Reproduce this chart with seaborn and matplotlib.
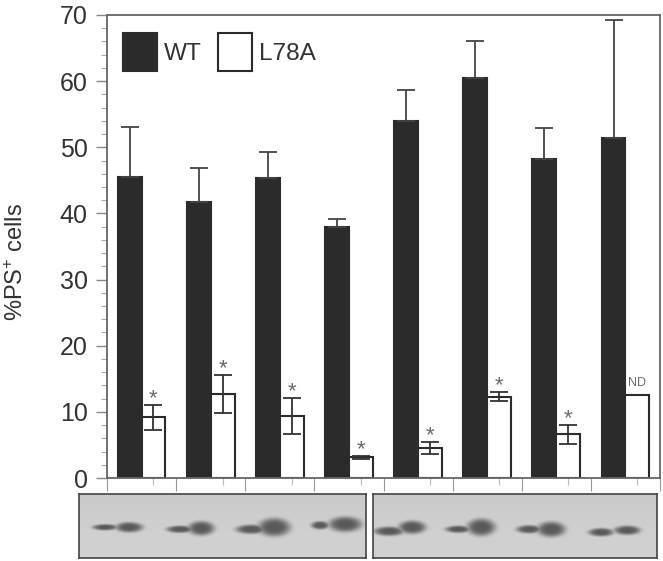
import numpy as np
import pandas as pd
import matplotlib
matplotlib.use('Agg')
import matplotlib.pyplot as plt
import seaborn as sns

sns.set_theme(style='white')
plt.rcParams['font.family'] = ['Liberation Sans', 'DejaVu Sans']
plt.rcParams['mathtext.default'] = 'regular'

groups = ['1', '2', '3', '4', '5', '6', '7', '8']
wt = [45.5, 41.7, 45.4, 38.0, 54.0, 60.4, 48.3, 51.4]
wt_err = [7.5, 5.2, 3.9, 1.1, 4.7, 5.6, 4.6, 17.9]
l78a = [9.2, 12.7, 9.4, 3.1, 4.6, 12.3, 6.6, 12.6]
l78a_err = [1.9, 2.8, 2.7, 0.2, 0.9, 0.7, 1.4, 0]
marks = ['*', '*', '*', '*', '*', '*', '*', 'ND']
y_ticks = [0, 10, 20, 30, 40, 50, 60, 70]

# band centre x, centre y, width, height in picture pixels
left_bands = [(105, 527, 25, 6), (129, 527, 27, 10), (180, 529, 27, 7), (201, 528, 26, 14),
              (251, 529, 30, 9), (274, 527, 32, 18), (320, 525, 18, 8), (345, 524, 33, 15)]
right_bands = [(389, 531, 30, 9), (412, 527, 27, 13), (458, 529, 25, 7), (481, 527, 28, 17),
               (529, 529, 25, 8), (551, 529, 28, 15), (601, 532, 25, 8), (627, 530, 26, 9)]

W, H = 663, 561
DARK = '#2b2b2b'
GREY = '#6a6a6a'

df = pd.DataFrame({'group': groups * 2,
                   'value': wt + l78a,
                   'kind': ['WT'] * 8 + ['L78A'] * 8})

fig = plt.figure(figsize=(W / 100, H / 100), dpi=100, facecolor='white')
ax = fig.add_axes([107 / W, 1 - 478 / H, 553 / W, 463 / H])

sns.barplot(data=df, x='group', y='value', hue='kind', hue_order=['WT', 'L78A'],
            palette={'WT': DARK, 'L78A': 'white'}, width=0.69, gap=0, errorbar=None,
            saturation=1, edgecolor=DARK, linewidth=1.5, ax=ax, legend=True)

wt_bars, l78a_bars = ax.containers[0], ax.containers[1]
wt_x = [b.get_x() + b.get_width() / 2 for b in wt_bars]
l_x = [b.get_x() + b.get_width() / 2 for b in l78a_bars]

ax.errorbar(wt_x, wt, yerr=[[0] * 8, wt_err], fmt='none', ecolor='#444444',
            elinewidth=1.3, capsize=6.5, capthick=1.3)
has_err = [i for i in range(8) if l78a_err[i] > 0]
ax.errorbar([l_x[i] for i in has_err], [l78a[i] for i in has_err],
            yerr=[l78a_err[i] for i in has_err], fmt='none', ecolor='#333333',
            elinewidth=1.3, capsize=6.5, capthick=1.3)

for i, m in enumerate(marks):
    top = l78a[i] + l78a_err[i]
    if m == '*':
        ax.annotate(m, (l_x[i], top), xytext=(0, -3), textcoords='offset points',
                    ha='center', va='bottom', fontsize=16, color=GREY)
    else:
        ax.annotate(m, (l_x[i], top), xytext=(0, 4), textcoords='offset points',
                    ha='center', va='bottom', fontsize=9, color=GREY)

ax.set_xlim(-0.5, 7.5)
ax.set_ylim(0, 70)
ax.set_xticks(np.arange(-0.5, 8, 1))
ax.set_xticklabels([])
ax.set_xticks(l_x, minor=True)
ax.set_yticks(y_ticks)
ax.set_yticks(np.arange(0, 71, 2), minor=True)
ax.set_xlabel('')
ax.set_ylabel('%PS$^{+}$ cells', fontsize=17, color='#333333')
ax.yaxis.set_label_coords(-0.143, 0.467)
ax.tick_params(axis='y', which='major', left=True, length=8, width=1, color='#888888',
               labelsize=18, labelcolor='#333333', pad=6)
ax.tick_params(axis='y', which='minor', left=True, length=4, width=0.8, color='#aaaaaa')
ax.tick_params(axis='x', which='major', bottom=True, length=9, width=0.8, color='#999999')
ax.tick_params(axis='x', which='minor', bottom=True, length=5, width=0.8, color='#bbbbbb')
for name, s in ax.spines.items():
    s.set_color('#666666')
    s.set_linewidth(1.3)

handles, labels = ax.get_legend_handles_labels()
ax.legend(handles, labels, loc='upper left', bbox_to_anchor=(16 / 553, 1 - 18 / 463),
          ncol=2, frameon=False, fontsize=17.6, labelcolor='#333333', borderpad=0,
          borderaxespad=0, handlelength=1.39, handleheight=2.0, handletextpad=0.3,
          columnspacing=0.65)


def draw_blot(x0, x1, y0, y1, bands):
    blot = fig.add_axes([x0 / W, 1 - y1 / H, (x1 - x0) / W, (y1 - y0) / H])
    xx, yy = np.meshgrid(np.arange(x0, x1, 0.5), np.arange(y0, y1, 0.5))
    img = 0.79 + 0.04 * (yy - y0) / (y1 - y0)
    for cx, cy, w, h in bands:
        d = ((xx - cx) / (w / 2)) ** 2 + ((yy - cy) / (h / 2)) ** 2
        img = np.minimum(img, 0.82 - 0.47 * np.exp(-d ** 2))
    blot.imshow(img, cmap='gray', vmin=0, vmax=1, extent=(x0, x1, y1, y0), aspect='auto')
    blot.set_xticks([])
    blot.set_yticks([])
    for s in blot.spines.values():
        s.set_color('#444444')
        s.set_linewidth(1.2)


draw_blot(79, 366, 494, 558, left_bands)
draw_blot(373, 657, 494, 558, right_bands)

fig.savefig('out.png', dpi=100)
